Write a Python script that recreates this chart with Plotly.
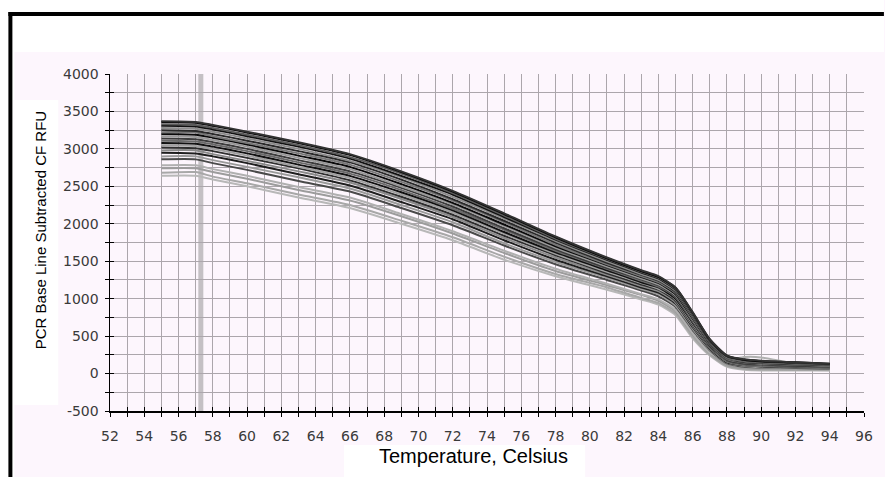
import plotly.graph_objects as go

# Temperatures (Celsius) at which each melt curve is sampled
temps = [55, 57, 58, 60, 63, 66, 69, 72, 75, 78, 81, 83, 84, 85, 86, 87, 88, 89, 90, 92, 94]

# RFU readings of the individual wells (lowest to highest)
well_01 = [2640, 2640, 2590, 2500, 2350, 2210, 2000, 1780, 1520, 1300, 1120, 990, 920, 780, 470, 240, 90, 50, 40, 40, 40]
well_02 = [2680, 2690, 2630, 2540, 2390, 2250, 2040, 1820, 1560, 1330, 1150, 1010, 940, 800, 490, 250, 100, 60, 50, 50, 45]
well_03 = [2740, 2740, 2690, 2600, 2450, 2310, 2100, 1870, 1610, 1370, 1180, 1050, 970, 830, 520, 270, 110, 70, 60, 55, 55]
well_04 = [2780, 2780, 2730, 2640, 2490, 2350, 2130, 1900, 1640, 1400, 1200, 1060, 990, 850, 540, 280, 180, 220, 215, 130, 100]
well_05 = [2860, 2860, 2810, 2720, 2570, 2430, 2210, 1980, 1710, 1460, 1250, 1110, 1030, 890, 580, 310, 135, 90, 80, 75, 65]
well_06 = [2900, 2900, 2850, 2760, 2620, 2470, 2250, 2020, 1740, 1490, 1280, 1130, 1060, 910, 600, 320, 145, 100, 85, 80, 70]
well_07 = [2950, 2940, 2900, 2810, 2660, 2510, 2290, 2060, 1780, 1520, 1300, 1150, 1080, 935, 620, 330, 150, 110, 95, 85, 80]
well_08 = [2980, 2980, 2930, 2840, 2700, 2550, 2330, 2090, 1810, 1550, 1320, 1170, 1100, 950, 635, 345, 160, 115, 100, 90, 80]
well_09 = [3020, 3010, 2970, 2880, 2740, 2580, 2360, 2120, 1840, 1580, 1340, 1190, 1120, 970, 650, 355, 170, 125, 110, 95, 85]
well_10 = [3050, 3040, 3000, 2910, 2760, 2610, 2390, 2150, 1870, 1600, 1360, 1210, 1130, 990, 665, 365, 175, 130, 115, 100, 90]
well_11 = [3080, 3070, 3030, 2940, 2790, 2640, 2420, 2180, 1890, 1620, 1380, 1220, 1150, 1000, 680, 370, 180, 135, 120, 105, 95]
well_12 = [3110, 3100, 3060, 2970, 2820, 2670, 2450, 2200, 1920, 1640, 1400, 1240, 1160, 1020, 695, 380, 185, 140, 125, 110, 100]
well_13 = [3140, 3130, 3090, 3000, 2850, 2700, 2480, 2230, 1940, 1660, 1410, 1260, 1180, 1030, 710, 390, 190, 145, 130, 115, 100]
well_14 = [3170, 3160, 3120, 3030, 2880, 2730, 2500, 2260, 1970, 1680, 1430, 1270, 1190, 1045, 720, 400, 200, 150, 135, 120, 105]
well_15 = [3200, 3190, 3150, 3060, 2910, 2760, 2530, 2280, 1990, 1700, 1450, 1290, 1210, 1060, 735, 405, 205, 155, 140, 125, 110]
well_16 = [3220, 3220, 3170, 3080, 2940, 2790, 2560, 2310, 2020, 1720, 1460, 1300, 1220, 1075, 750, 415, 210, 160, 145, 130, 110]
well_17 = [3250, 3240, 3200, 3110, 2970, 2820, 2590, 2330, 2040, 1750, 1480, 1320, 1240, 1090, 765, 425, 215, 170, 150, 130, 115]
well_18 = [3280, 3270, 3230, 3140, 3000, 2840, 2620, 2360, 2070, 1770, 1500, 1330, 1250, 1105, 780, 435, 220, 175, 155, 135, 120]
well_19 = [3310, 3300, 3260, 3170, 3030, 2870, 2640, 2390, 2090, 1790, 1520, 1350, 1270, 1120, 790, 440, 230, 180, 160, 140, 125]
well_20 = [3330, 3320, 3280, 3190, 3050, 2890, 2670, 2410, 2110, 1800, 1530, 1360, 1280, 1130, 800, 450, 235, 185, 165, 145, 125]
well_21 = [3360, 3350, 3310, 3220, 3080, 2920, 2690, 2430, 2130, 1820, 1540, 1370, 1290, 1145, 815, 455, 240, 185, 165, 150, 130]
well_22 = [3370, 3360, 3320, 3230, 3090, 2930, 2700, 2440, 2140, 1830, 1550, 1380, 1300, 1150, 820, 460, 240, 190, 170, 150, 130]

wells = [well_01, well_02, well_03, well_04, well_05, well_06, well_07, well_08,
         well_09, well_10, well_11, well_12, well_13, well_14, well_15, well_16,
         well_17, well_18, well_19, well_20, well_21, well_22]

well_colors = ["#b8b8b8", "#a8a8a8", "#9c9c9c", "#b0b0b0", "#4a4a4a", "#9a9a9a",
               "#1e1e1e", "#8a8a8a", "#2e2e2e", "#a0a0a0", "#111111", "#6a6a6a",
               "#3c3c3c", "#999999", "#0a0a0a", "#777777", "#2a2a2a", "#8c8c8c",
               "#111111", "#5a5a5a", "#000000", "#333333"]

# Cursor position (temperature)
cursor_temp = 57.3

# Axis ticks
x_tick_vals = [52, 54, 56, 58, 60, 62, 64, 66, 68, 70, 72, 74, 76, 78, 80, 82, 84, 86, 88, 90, 92, 94, 96]
x_tick_labels = ["52", "54", "56", "58", "60", "62", "64", "66", "68", "70", "72", "74",
                 "76", "78", "80", "82", "84", "86", "88", "90", "92", "94", "96"]
y_tick_vals = [-500, 0, 500, 1000, 1500, 2000, 2500, 3000, 3500, 4000]
y_tick_labels = ["-500", "0", "500", "1000", "1500", "2000", "2500", "3000", "3500", "4000"]

W, H = 885, 477
L, R, T, B = 110, 18, 74, 66
pw, ph = W - L - R, H - T - B
PANEL = "#fdf6fd"


def px(x):
    return (x - L) / pw


def py(y):
    return (H - B - y) / ph


fig = go.Figure()

for vals, col in zip(wells, well_colors):
    fig.add_trace(go.Scatter(
        x=temps, y=vals, mode="lines",
        line=dict(color=col, width=2.0, shape="spline", smoothing=0.6),
        showlegend=False, hoverinfo="skip"))

# dummy trace for the overlay axes carrying the inner tick halves
fig.add_trace(go.Scatter(x=[None], y=[None], xaxis="x2", yaxis="y2",
                         showlegend=False, hoverinfo="skip"))

grid_col = "#aca6ac"
tick_font = dict(family="DejaVu Sans", size=14, color="#3a3a3a")

fig.update_layout(
    width=W, height=H,
    margin=dict(l=L, r=R, t=T, b=B, pad=0),
    paper_bgcolor=PANEL,
    plot_bgcolor=PANEL,
    xaxis=dict(range=[52, 96], tickmode="array", tickvals=x_tick_vals, ticktext=x_tick_labels,
               showgrid=True, gridcolor=grid_col, gridwidth=1,
               minor=dict(dtick=1, showgrid=True, gridcolor=grid_col, gridwidth=1,
                          ticks="outside", ticklen=4, tickcolor="#000", tickwidth=1),
               ticks="outside", ticklen=4, tickcolor="#000", tickwidth=1,
               showline=True, linecolor="#000", linewidth=1.5, zeroline=False,
               tickfont=tick_font, ticklabelstandoff=8, fixedrange=True),
    yaxis=dict(range=[-500, 4000], tickmode="array", tickvals=y_tick_vals, ticktext=y_tick_labels,
               showgrid=True, gridcolor=grid_col, gridwidth=1,
               minor=dict(dtick=250, showgrid=True, gridcolor=grid_col, gridwidth=1,
                          ticks="outside", ticklen=4, tickcolor="#000", tickwidth=1),
               ticks="outside", ticklen=4, tickcolor="#000", tickwidth=1,
               showline=True, linecolor="#000", linewidth=1.5, zeroline=False,
               tickfont=tick_font, ticklabelstandoff=3, fixedrange=True),
    xaxis2=dict(range=[52, 96], overlaying="x", anchor="y2", side="bottom",
                tickmode="array", tickvals=x_tick_vals, showticklabels=False,
                minor=dict(dtick=1, ticks="inside", ticklen=4, tickcolor="#000", tickwidth=1, showgrid=False),
                ticks="inside", ticklen=4, tickcolor="#000", tickwidth=1,
                showgrid=False, zeroline=False, showline=False, fixedrange=True),
    yaxis2=dict(range=[-500, 4000], overlaying="y", anchor="x2", side="left",
                tickmode="array", tickvals=y_tick_vals, showticklabels=False,
                minor=dict(dtick=250, ticks="inside", ticklen=4, tickcolor="#000", tickwidth=1, showgrid=False),
                ticks="inside", ticklen=4, tickcolor="#000", tickwidth=1,
                showgrid=False, zeroline=False, showline=False, fixedrange=True),
    hovermode=False,
)

# cursor band
fig.add_shape(type="line", xref="x", yref="y", x0=cursor_temp, x1=cursor_temp, y0=-500, y1=4000,
              line=dict(color="#c4c0c4", width=5), layer="below")

# frame decorations (all outside the plotting area)
shapes = [
    # white strip above the panel
    dict(type="rect", xref="paper", yref="paper", x0=px(-2), x1=px(W + 2), y0=py(52), y1=py(-2),
         fillcolor="white", line=dict(width=0), layer="below"),
    # white strip left of the panel
    dict(type="rect", xref="paper", yref="paper", x0=px(-2), x1=px(14), y0=py(H + 2), y1=py(-2),
         fillcolor="white", line=dict(width=0), layer="below"),
    # white box behind y title
    dict(type="rect", xref="paper", yref="paper", x0=px(14), x1=px(58), y0=py(405), y1=py(100),
         fillcolor="white", line=dict(width=0), layer="below"),
    # white box behind x title
    dict(type="rect", xref="paper", yref="paper", x0=px(345), x1=px(587), y0=py(H + 2), y1=py(445),
         fillcolor="white", line=dict(width=0), layer="below"),
    # black frame top
    dict(type="rect", xref="paper", yref="paper", x0=px(8), x1=px(W + 2), y0=py(16), y1=py(12),
         fillcolor="black", line=dict(width=0), layer="above"),
    # black frame left
    dict(type="rect", xref="paper", yref="paper", x0=px(8), x1=px(12), y0=py(H + 2), y1=py(12),
         fillcolor="black", line=dict(width=0), layer="above"),
]
for s in shapes:
    fig.add_shape(**s)

fig.add_annotation(text="PCR Base Line Subtracted CF RFU", xref="paper", yref="paper",
                   x=px(40), y=py(230), textangle=-90, showarrow=False,
                   xanchor="center", yanchor="middle",
                   font=dict(family="Liberation Sans", size=15, color="#000"))
fig.add_annotation(text="Temperature, Celsius", xref="paper", yref="paper",
                   x=px(475), y=py(456), showarrow=False,
                   xanchor="center", yanchor="middle",
                   font=dict(family="Liberation Sans", size=20, color="#000"))

fig.write_html("out.html", config={"displayModeBar": False, "staticPlot": True})
